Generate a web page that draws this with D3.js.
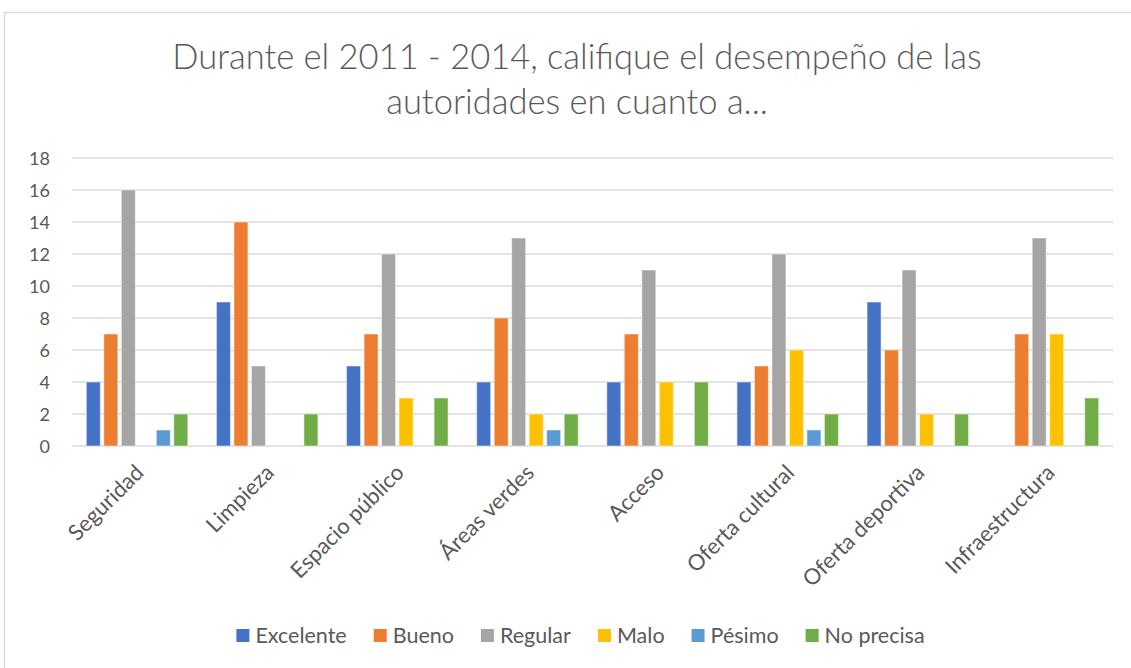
<!DOCTYPE html>
<html><head><meta charset="utf-8">
<script src="https://cdn.jsdelivr.net/npm/d3@7"></script>
<style>body{margin:0;background:#fff;}svg{display:block;}</style>
</head><body>
<script>
const categories = ["Seguridad","Limpieza","Espacio público","Áreas verdes","Acceso","Oferta cultural","Oferta deportiva","Infraestructura"];
const seriesNames = ["Excelente","Bueno","Regular","Malo","Pésimo","No precisa"];
const excelente = [4,9,5,4,4,4,9,0];
const bueno     = [7,14,7,8,7,5,6,7];
const regular   = [16,5,12,13,11,12,11,13];
const malo      = [0,0,3,2,4,6,2,7];
const pesimo    = [1,0,0,1,0,1,0,0];
const noPrecisa = [2,2,3,2,4,2,2,3];
const yTicks = [0,2,4,6,8,10,12,14,16,18];
const colors = ["#4472C4","#ED7D31","#A5A5A5","#FFC000","#5B9BD5","#70AD47"];
const seriesValues = [excelente,bueno,regular,malo,pesimo,noPrecisa];

const W=1131,H=668;
const svg=d3.select("body").append("svg").attr("width",W).attr("height",H);
const font="Lato, 'Open Sans', sans-serif";
svg.append("rect").attr("x",4.5).attr("y",12.5).attr("width",W+10).attr("height",H+10)
  .attr("fill","#fff").attr("stroke","#d9d9d9").attr("stroke-width",1.5);

const m={l:72,r:1113,t:158,b:446};
const x0=d3.scaleBand().domain(categories).range([m.l,m.r]).paddingInner(0.22).paddingOuter(0.11);
const x1=d3.scaleBand().domain(seriesNames).range([0,x0.bandwidth()]).paddingInner(0.2);
const y=d3.scaleLinear().domain([0,18]).range([m.b,m.t]);

// gridlines
svg.append("g").selectAll("line").data(yTicks).join("line")
  .attr("x1",m.l).attr("x2",m.r).attr("y1",d=>y(d)).attr("y2",d=>y(d))
  .attr("stroke","#d9d9d9").attr("stroke-width",1.5);

// y axis
const ya=svg.append("g").attr("transform",`translate(${m.l},0)`)
  .call(d3.axisLeft(y).tickValues(yTicks).tickSize(0).tickPadding(22));
ya.select(".domain").remove();
ya.selectAll("text").attr("font-family",font).attr("font-size",18).attr("fill","#595959").attr("dy","0.35em");

// bars
const rows=categories.map((c,i)=>({cat:c,vals:seriesNames.map((s,j)=>({s,v:seriesValues[j][i],c:colors[j]}))}));
const g=svg.append("g").selectAll("g").data(rows).join("g")
  .attr("transform",d=>`translate(${x0(d.cat)},0)`);
g.selectAll("rect").data(d=>d.vals.filter(v=>v.v>0)).join("rect")
  .attr("x",d=>x1(d.s)).attr("width",x1.bandwidth())
  .attr("y",d=>y(d.v)).attr("height",d=>y(0)-y(d.v))
  .attr("fill",d=>d.c).attr("stroke","#ffffff").attr("stroke-opacity",0.5).attr("stroke-width",1);

// x axis labels
const xa=svg.append("g").attr("transform",`translate(0,${m.b})`)
  .call(d3.axisBottom(x0).tickSize(0).tickPadding(0));
xa.select(".domain").remove();
xa.selectAll("text").attr("font-family",font).attr("font-size",22).attr("fill","#595959")
  .attr("text-anchor","end").attr("dy",0)
  .attr("transform","translate(8,28) rotate(-45)");

// title
const title=svg.append("text").attr("text-anchor","middle").attr("font-family",font)
  .attr("font-weight",300).attr("font-size",34.5).attr("fill","#595959");
title.append("tspan").attr("x",577).attr("y",69).text("Durante el 2011 - 2014, califique el desempeño de las");
title.append("tspan").attr("x",577).attr("y",114).text("autoridades en cuanto a...");

// legend
const lg=svg.append("g");
const items=lg.selectAll("g").data(seriesNames).join("g");
items.append("rect").attr("width",13).attr("height",13).attr("y",-14).attr("fill",(d,i)=>colors[i]);
items.append("text").attr("x",19).attr("y",0).attr("font-family",font).attr("font-size",21.5)
  .attr("fill","#595959").text(d=>d);
let xx=0; const pos=[];
items.each(function(d){const w=this.getBBox().width;pos.push(xx);xx+=w+27;});
const total=xx-27;
items.attr("transform",(d,i)=>`translate(${pos[i]},0)`);
lg.attr("transform",`translate(${(233+928)/2-total/2},643)`);
</script>
</body></html>
